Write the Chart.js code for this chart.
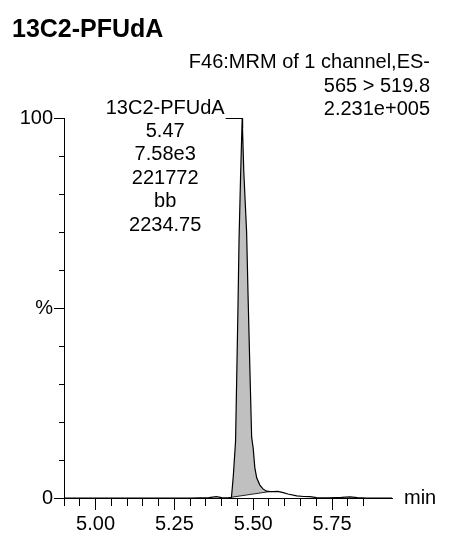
<!DOCTYPE html>
<html>
<head>
<meta charset="utf-8">
<script src="https://cdn.jsdelivr.net/npm/chart.js@4"></script>
<style>
  body { margin: 0; background: #fff; }
</style>
</head>
<body>
<canvas id="grafico" width="449" height="540"></canvas>
<script>
// Chromatogram values -------------------------------------------------------

// retention time (min) and relative intensity (%)
const tempo = [4.90, 5.00, 5.10, 5.20, 5.30, 5.36, 5.383, 5.40, 5.42, 5.431, 5.437, 5.444, 5.452, 5.455, 5.460, 5.465,
  5.470, 5.479, 5.484, 5.490, 5.495, 5.500, 5.505, 5.511, 5.521, 5.531, 5.542, 5.553, 5.565, 5.578, 5.595, 5.610,
  5.638, 5.660, 5.680, 5.701, 5.74, 5.78, 5.807, 5.83, 5.86, 5.94]
const intensidade = [0, 0, 0, 0, 0, 0.1, 0.35, 0.1, 0.05, 0.2, 6, 15, 52, 68, 85, 100,
  86, 70, 52, 32, 16, 13, 8, 5.3, 3.4, 2.4, 1.8, 1.7, 1.7, 1.75, 1.4, 1.05,
  0.55, 0.4, 0.35, 0.1, 0.05, 0.15, 0.3, 0.1, 0, 0]

// integration baseline (bb)
const base_tempo = [5.431, 5.553]
const base_intensidade = [0.2, 1.7]

// texts
const titulo = '13C2-PFUdA'
const cabecalho = ['F46:MRM of 1 channel,ES-', '565 > 519.8', '2.231e+005']
const rotulo_pico = ['13C2-PFUdA', '5.47', '7.58e3', '221772', 'bb', '2234.75']
const rotulos_Y = {0: '0', 50: '%', 100: '100'}

const fonte = '"Liberation Sans", Arial, Helvetica, sans-serif'

// ---------------------------------------------------------------------------

const sinal = tempo.map((t, i) => ({x: t, y: intensidade[i]}))
const area = sinal.filter(p => p.x >= base_tempo[0] && p.x <= base_tempo[1])
const linha_base = base_tempo.map((t, i) => ({x: t, y: base_intensidade[i]}))

const textos = {
  id: 'textos',
  afterDraw(chart) {
    const c = chart.ctx
    const area_g = chart.chartArea
    c.save()
    c.fillStyle = '#000'

    c.font = 'bold 25px ' + fonte
    c.textAlign = 'left'
    c.textBaseline = 'alphabetic'
    c.fillText(titulo, 12, 37)

    c.font = '20px ' + fonte
    c.textAlign = 'right'
    cabecalho.forEach((l, i) => c.fillText(l, 430, 68 + i * 23.5))

    c.textAlign = 'left'
    c.textBaseline = 'middle'
    c.fillText('min', area_g.right + 12, area_g.bottom)

    // peak label
    const meta = chart.getDatasetMeta(0)
    const imax = intensidade.indexOf(Math.max(...intensidade))
    const px = meta.data[imax].x
    const py = meta.data[imax].y
    const cx = px - 77
    c.textAlign = 'center'
    rotulo_pico.forEach((l, i) => {
      const y = i == 0 ? py - 10 : py + 13 + (i - 1) * 23.5
      c.fillText(l, cx, y)
    })
    const w = c.measureText(rotulo_pico[0]).width
    c.strokeStyle = '#000'
    c.lineWidth = 1
    c.beginPath()
    c.moveTo(cx + w / 2 + 1, py + 0.5)
    c.lineTo(px + 0.5, py + 0.5)
    c.lineTo(px + 0.5, py + 10)
    c.stroke()
    c.restore()
  }
}

const config = {
  type: 'line',
  data: {
    datasets: [{
      data: sinal,
      borderColor: '#000',
      borderWidth: 1.2,
      pointRadius: 0,
      fill: false,
      order: 1
    }, {
      data: linha_base,
      borderColor: '#222',
      borderWidth: 1,
      pointRadius: 0,
      fill: false,
      order: 2
    }, {
      data: area,
      borderWidth: 0,
      borderColor: 'rgba(0,0,0,0)',
      backgroundColor: '#c0c0c0',
      pointRadius: 0,
      fill: {target: 1},
      order: 3
    }]
  },
  options: {
    responsive: false,
    animation: false,
    clip: 4,
    layout: {padding: {top: 118, right: 57, bottom: 0, left: 0}},
    plugins: {
      legend: false,
      tooltip: {enabled: false}
    },
    scales: {
      x: {
        type: 'linear',
        min: 4.90,
        max: 5.94,
        afterFit: s => { s.height = 42 },
        afterBuildTicks: s => {
          s.ticks = s.ticks.filter(t => Math.abs(t.value * 20 - Math.round(t.value * 20)) < 1e-6)
        },
        border: {color: '#000', width: 1},
        grid: {
          drawOnChartArea: false,
          tickLength: 12,
          tickColor: '#000',
          tickBorderDash: ctx => {
            const v = ctx.tick.value * 4
            return Math.abs(v - Math.round(v)) < 1e-6 ? [] : [7, 30]
          }
        },
        ticks: {
          stepSize: 0.05,
          autoSkip: false,
          maxRotation: 0,
          padding: 2,
          color: '#000',
          font: {family: fonte, size: 20},
          callback: v => {
            const q = v * 4
            return Math.abs(q - Math.round(q)) < 1e-6 ? v.toFixed(2) : ''
          }
        }
      },
      y: {
        min: 0,
        max: 100,
        afterFit: s => { s.width = 64 },
        border: {color: '#000', width: 1},
        grid: {
          drawOnChartArea: false,
          tickLength: 10,
          tickColor: '#000',
          // left ticks are drawn from the outer end towards the axis
          tickBorderDash: ctx => (ctx.tick.value % 50 ? [0, 5, 5, 30] : [])
        },
        ticks: {
          stepSize: 10,
          autoSkip: false,
          padding: 1,
          color: '#000',
          font: {family: fonte, size: 20},
          callback: v => (rotulos_Y[v] !== undefined ? rotulos_Y[v] : '')
        }
      }
    }
  },
  plugins: [textos]
}

const grafico = new Chart(document.getElementById('grafico'), config)
</script>
</body>
</html>
